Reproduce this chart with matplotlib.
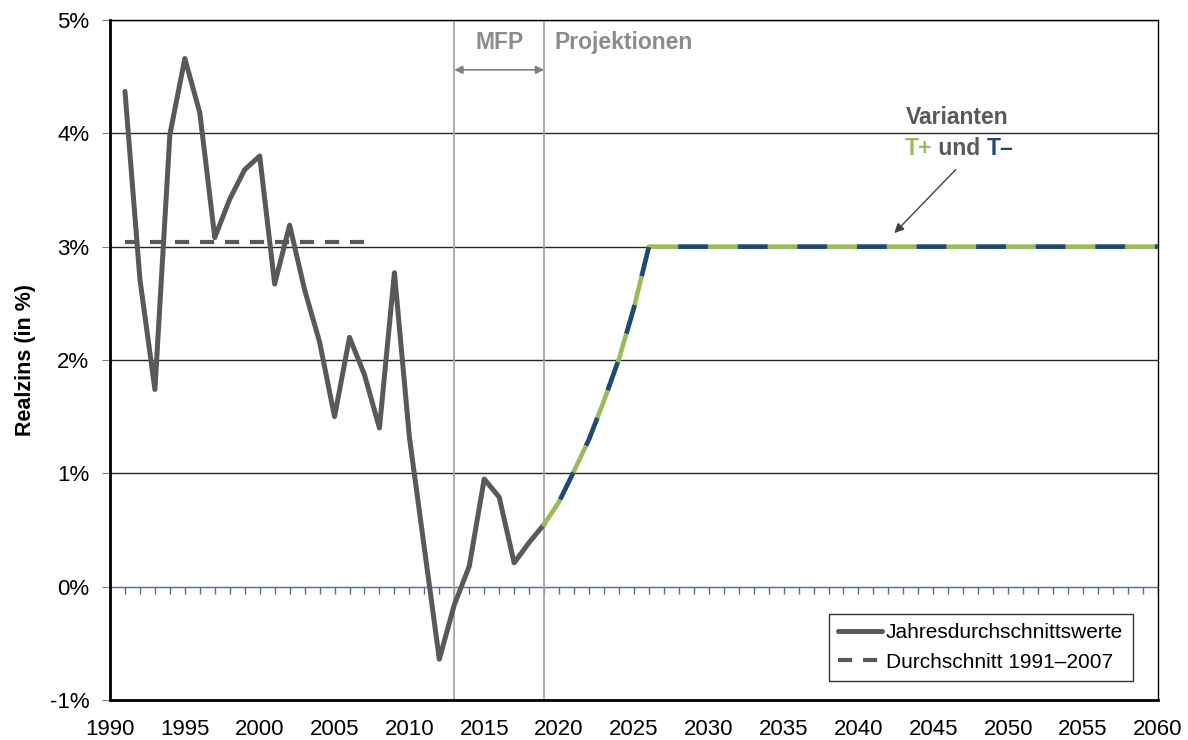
import numpy as np
import matplotlib.pyplot as plt

plt.rcParams['font.family'] = ['Liberation Sans', 'DejaVu Sans']

# historical annual real interest rate (in %)
hist_years = list(range(1991, 2020))
hist_values = [4.37, 2.71, 1.74, 3.99, 4.66, 4.18, 3.08, 3.42, 3.68, 3.80,
               2.67, 3.19, 2.62, 2.16, 1.50, 2.20, 1.87, 1.40, 2.77, 1.32,
               0.34, -0.64, -0.16, 0.18, 0.95, 0.79, 0.21, 0.39, 0.55]

# average 1991-2007
avg_years = [1991, 2007]
avg_values = [3.045, 3.045]

# projection (variants T+ and T-)
proj_years = list(range(2019, 2061))
proj_values = [0.55, 0.75, 1.02, 1.30, 1.64, 2.01, 2.46] + [3.0] * 35

x_ticks = list(range(1990, 2061, 5))
y_ticks = [-1, 0, 1, 2, 3, 4, 5]
y_labels = ['-1%', '0%', '1%', '2%', '3%', '4%', '5%']

dark = '#595959'
green = '#9BBB59'
blue = '#1F497D'
vgray = '#A6A6A6'

fig = plt.figure(figsize=(11.88, 7.40), dpi=100)
ax = fig.add_axes([0.0926, 0.054, 0.882, 0.919])

ax.set_xlim(1990, 2060)
ax.set_ylim(-1, 5)

# grid lines
for v in [1, 2, 3, 4, 5]:
    ax.axhline(v, color='#262626', lw=1.0, zorder=1)

# zero line with yearly ticks
ax.axhline(0, color='#4F6D9A', lw=1.0, zorder=1)
ax.vlines(np.arange(1990, 2061), -0.062, 0, color='#4F6D9A', lw=1.0, zorder=1)

# MFP / projection separators
ax.axvline(2013, color=vgray, lw=1.3, zorder=1)
ax.axvline(2019, color=vgray, lw=1.3, zorder=1)

ax.plot(hist_years, hist_values, color=dark, lw=3.6, zorder=4,
        solid_joinstyle='round', solid_capstyle='round',
        label='Jahresdurchschnittswerte')
ax.plot(avg_years, avg_values, color=dark, lw=3.0, zorder=3,
        dashes=(3.4, 2.6), label='Durchschnitt 1991–2007')

ax.plot(proj_years, proj_values, color=green, lw=3.3, zorder=5,
        solid_joinstyle='round')
ax.plot(proj_years, proj_values, color=blue, lw=3.3, zorder=6,
        linestyle=(6.5, (6.5, 6.5)), dash_joinstyle='round')

# annotations
ax.annotate('', xy=(2013, 4.56), xytext=(2019, 4.56),
            arrowprops=dict(arrowstyle='<|-|>', color='#808080', lw=1.2,
                            mutation_scale=12, shrinkA=0, shrinkB=0))
ax.text(2016.05, 4.80, 'MFP', ha='center', va='center', fontsize=16.5,
        fontweight='bold', color='#8C8C8C')
ax.text(2019.7, 4.80, 'Projektionen', ha='left', va='center', fontsize=16.5,
        fontweight='bold', color='#8C8C8C')

ax.text(2046.6, 4.14, 'Varianten', ha='center', va='center', fontsize=16.5,
        fontweight='bold', color=dark)
t1 = ax.text(2043.1, 3.87, 'T+', ha='left', va='center', fontsize=16.5,
             fontweight='bold', color=green)
fig.canvas.draw()
t2 = ax.annotate(' und ', xycoords=t1, xy=(1, 0.5), va='center', ha='left',
                 fontsize=16.5, fontweight='bold', color=dark)
ax.annotate('T–', xycoords=t2, xy=(1, 0.5), va='center', ha='left',
            fontsize=16.5, fontweight='bold', color=blue)
ax.annotate('', xy=(2042.4, 3.12), xytext=(2046.5, 3.68),
            arrowprops=dict(arrowstyle='-|>', color='#404040', lw=1.0,
                            mutation_scale=14, shrinkA=0, shrinkB=0))

ax.set_xticks(x_ticks)
ax.set_yticks(y_ticks)
ax.set_yticklabels(y_labels)
ax.tick_params(axis='x', length=0, labelsize=16, pad=14)
ax.tick_params(axis='y', length=6, color='#808080', labelsize=16, pad=9)
ax.set_ylabel('Realzins (in %)', fontsize=15.5, fontweight='bold', labelpad=10)

for s in ['left', 'bottom']:
    ax.spines[s].set_linewidth(2.0)
for s in ['top', 'right']:
    ax.spines[s].set_linewidth(1.0)

leg = ax.legend(loc='lower right', bbox_to_anchor=(0.976, 0.028),
                borderaxespad=0, fontsize=15, frameon=True, fancybox=False,
                edgecolor='black', handlelength=2.1, handletextpad=0.2,
                labelspacing=0.5, borderpad=0.45)
leg.get_frame().set_linewidth(1.0)

fig.savefig('out.png', dpi=100)
